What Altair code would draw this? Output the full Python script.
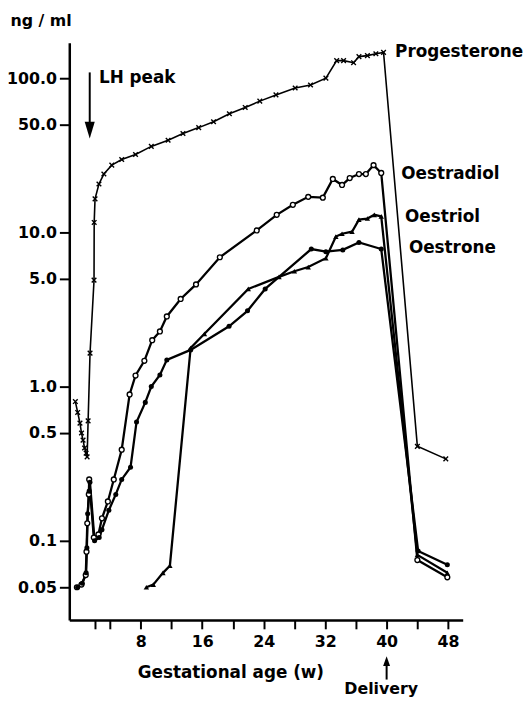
import altair as alt
import pandas as pd

# ---------------- data ----------------
prog_w = [-0.5, -0.2, 0.1, 0.3, 0.5, 0.7, 0.9, 1.03, 1.16, 1.41, 1.93, 1.95, 2.06, 2.57, 3.21, 4.24,
          5.53, 7.33, 9.38, 11.57, 13.5, 15.55, 17.48, 19.54, 21.6, 23.5, 25.6, 28.1, 30.1, 32.1, 33.5, 34.4,
          35.7, 36.4, 37.5, 38.6, 39.6, 44.0, 47.7]
prog_v = [0.80, 0.68, 0.58, 0.50, 0.45, 0.40, 0.37, 0.35, 0.60, 1.65, 4.9, 11.6, 16.5, 20.6, 23.9, 27.3,
          29.7, 32.0, 36.1, 39.6, 43.8, 47.8, 52.2, 58.8, 64.6, 71.0, 77.9, 86.3, 90.3, 100, 130, 130,
          126, 138, 140, 144, 147, 0.41, 0.34]

e2_w = [-0.3, 0.3, 0.85, 0.95, 1.05, 1.25, 1.3, 1.9, 2.5, 2.96, 3.73, 4.5, 5.53, 6.56, 7.33, 8.48,
        9.5, 10.5, 11.4, 13.2, 15.2, 18.3, 23.1, 25.7, 27.8, 29.8, 31.7, 33.0, 34.2, 35.2, 36.4, 37.3,
        38.3, 39.3, 44.0, 47.9]
e2_v = [0.050, 0.052, 0.060, 0.085, 0.13, 0.20, 0.25, 0.105, 0.11, 0.14, 0.18, 0.25, 0.39, 0.89, 1.18, 1.47,
        2.0, 2.28, 2.85, 3.7, 4.6, 6.9, 10.3, 13.0, 15.1, 17.0, 16.8, 22.2, 20.3, 22.5, 23.9, 23.9,
        27.3, 24.3, 0.075, 0.058]

e1_w = [-0.2, 0.4, 0.9, 1.0, 1.1, 1.3, 1.4, 2.0, 2.6, 2.96, 3.86, 4.76, 5.53, 6.68, 7.46, 8.6,
        9.38, 10.5, 11.4, 14.5, 19.5, 21.9, 24.2, 30.2, 32.1, 34.3, 36.4, 39.3, 44.1, 47.9]
e1_v = [0.050, 0.053, 0.062, 0.09, 0.15, 0.21, 0.24, 0.10, 0.105, 0.118, 0.158, 0.20, 0.25, 0.30, 0.59, 0.79,
        1.0, 1.19, 1.49, 1.73, 2.46, 3.1, 4.3, 7.8, 7.5, 7.7, 8.6, 7.8, 0.086, 0.070]

e3_w = [8.74, 9.64, 10.9, 11.8, 14.5, 16.3, 22.0, 26.0, 28.0, 29.8, 32.1, 33.4, 34.2, 35.5, 36.4, 37.5,
        38.4, 39.3, 44.0, 47.9]
e3_v = [0.050, 0.052, 0.062, 0.069, 1.78, 2.2, 4.3, 5.15, 5.6, 5.96, 6.8, 9.4, 9.8, 10.1, 12.1, 12.3,
        13.0, 12.7, 0.081, 0.062]

label_text = ["Progesterone", "Oestradiol", "Oestriol", "Oestrone", "LH peak"]
label_w = [41.1, 41.9, 42.4, 42.9, 2.57]
label_v = [148, 23.9, 12.6, 7.9, 100]

y_ticks = [0.05, 0.1, 0.5, 1, 5, 10, 50, 100]
x_ticks = [2, 4, 8, 12, 16, 20, 24, 28, 32, 36, 40, 44, 48]

# annotation arrows (LH peak, Delivery)
lh_w, lh_v_top, lh_v_bot, lh_head_v = 1.37, 109, 52, 46
del_w, del_v_top, del_v_bot, del_head_v = 40.0, 0.0162, 0.0126, 0.0166
del_text_w, del_text_v = 39.3, 0.0109

FONT = "DejaVu Sans"


def frame(name, ws, vs):
    return pd.DataFrame({"series": name, "w": ws, "v": vs, "i": range(len(ws))})


prog = frame("Progesterone", prog_w, prog_v)
e2 = frame("Oestradiol", e2_w, e2_v)
e1 = frame("Oestrone", e1_w, e1_v)
e3 = frame("Oestriol", e3_w, e3_v)
estro = pd.concat([e2, e1, e3], ignore_index=True)
labels = pd.DataFrame({"t": label_text, "w": label_w, "v": label_v})

x_scale = alt.Scale(domain=[-1.29, 49.9], nice=False, zero=False)
y_scale = alt.Scale(type="log", domain=[0.0307, 170], nice=False)

x_axis = alt.Axis(
    values=x_ticks,
    labelExpr="datum.value % 8 == 0 ? datum.label : ''",
    title="Gestational age (w)",
    titleX=163, titleY=53, titleAlign="center", titleBaseline="middle",
    tickSize=9, labelPadding=5,
)
y_axis = alt.Axis(
    values=y_ticks,
    labelExpr="datum.value < 0.07 ? '0.05' : format(datum.value, '.1f')",
    title="ng / ml", titleAngle=0, titleX=-29, titleY=-22,
    titleAlign="center", titleBaseline="middle", titleFontSize=16,
    tickSize=10, labelPadding=3,
)

X = alt.X("w:Q", scale=x_scale, axis=x_axis)
Y = alt.Y("v:Q", scale=y_scale, axis=y_axis)

prog_line = alt.Chart(prog).mark_line(color="black", strokeWidth=1.6).encode(x=X, y=Y, order="i:Q")
estro_line = alt.Chart(estro).mark_line(color="black", strokeWidth=2.3).encode(
    x=X, y=Y, detail="series:N", order="i:Q")

prog_pts = alt.Chart(prog).mark_point(
    shape="M-1,-1L1,1M-1,1L1,-1", size=22, color="black", strokeWidth=1.4, opacity=1
).encode(x=X, y=Y)
e2_pts = alt.Chart(e2).mark_point(
    shape="circle", filled=True, fill="white", stroke="black", strokeWidth=1.4, size=24, opacity=1
).encode(x=X, y=Y)
e1_pts = alt.Chart(e1).mark_point(
    shape="circle", filled=True, color="black", size=26, opacity=1
).encode(x=X, y=Y)
e3_pts = alt.Chart(e3).mark_point(
    shape="triangle-up", filled=True, color="black", size=30, opacity=1
).encode(x=X, y=Y)

label_marks = alt.Chart(labels).mark_text(
    align="left", baseline="middle", font=FONT, fontSize=17, fontWeight="bold", color="black"
).encode(x=X, y=Y, text="t:N")

arrows = pd.DataFrame({
    "w": [lh_w, del_w], "v": [lh_v_top, del_v_top], "v2": [lh_v_bot, del_v_bot]
})
arrow_shafts = alt.Chart(arrows).mark_rule(color="black", strokeWidth=2).encode(
    x=X, y=Y, y2="v2:Q")
lh_head = alt.Chart(pd.DataFrame({"w": [lh_w], "v": [lh_head_v]})).mark_point(
    shape="M-0.6,-1L0.6,-1L0,1Z", size=289, filled=True, color="black", opacity=1
).encode(x=X, y=Y)
del_head = alt.Chart(pd.DataFrame({"w": [del_w], "v": [del_head_v]})).mark_point(
    shape="M0,-1L0.7,1L-0.7,1Z", size=100, filled=True, color="black", opacity=1
).encode(x=X, y=Y)
del_text = alt.Chart(pd.DataFrame({"w": [del_text_w], "v": [del_text_v], "t": ["Delivery"]})).mark_text(
    align="center", baseline="middle", font=FONT, fontSize=16, fontWeight="bold", color="black"
).encode(x=X, y=Y, text="t:N")

chart = alt.layer(
    prog_line, estro_line, prog_pts, e2_pts, e1_pts, e3_pts,
    label_marks, arrow_shafts, lh_head, del_head, del_text
).properties(
    width=398, height=584,
    padding={"left": 62, "top": 31, "right": 61, "bottom": 79},
    autosize=alt.AutoSizeParams(type="none"),
    background="white",
).configure_view(strokeWidth=0).configure_axis(
    grid=False, domainColor="black", domainWidth=2.5, tickColor="black", tickWidth=2,
    labelFont=FONT, labelFontSize=16, labelFontWeight="bold", labelColor="black",
    titleFont=FONT, titleFontSize=17, titleFontWeight="bold", titleColor="black",
)

chart.save("out.html", embed_options={"renderer": "svg", "actions": False})
